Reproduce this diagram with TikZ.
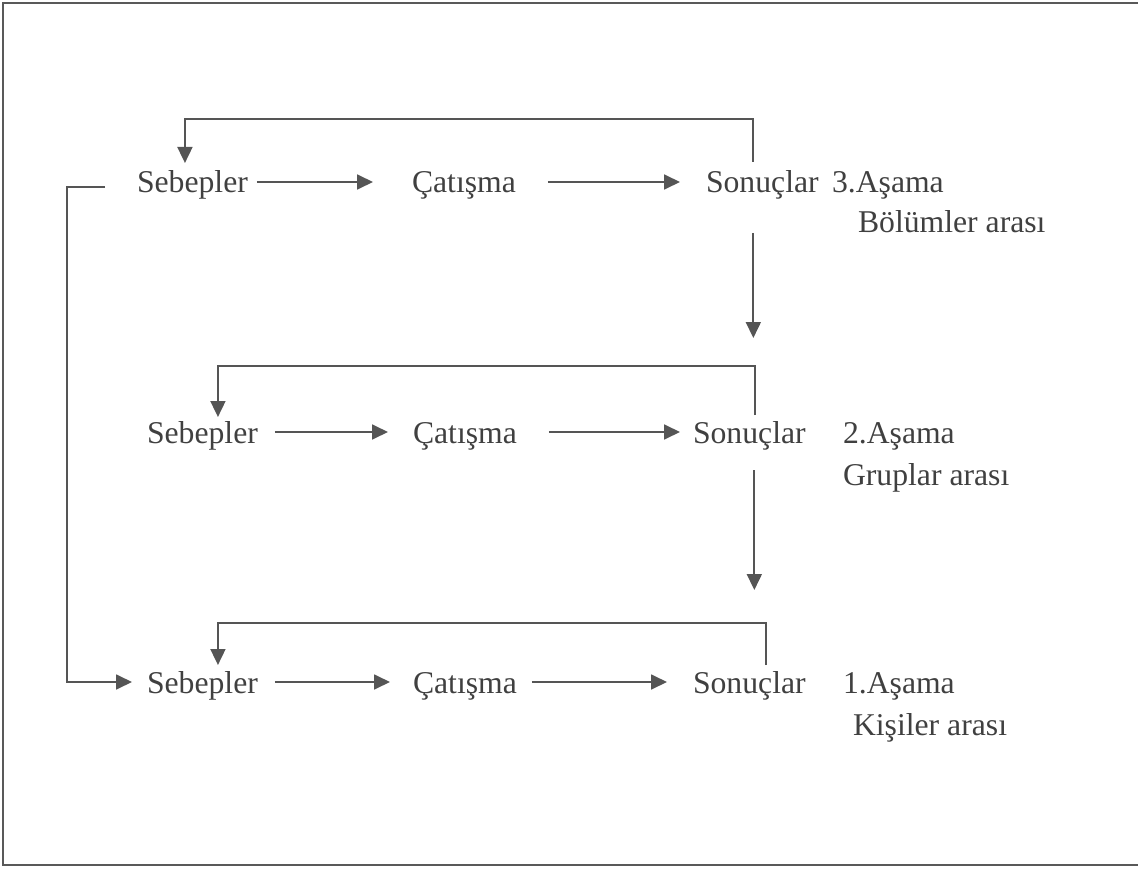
\documentclass[tikz,border=0pt]{standalone}
\usepackage{fontspec}
\setmainfont{Liberation Serif}
\usetikzlibrary{arrows.meta}
\definecolor{ink}{HTML}{404040}
\definecolor{wire}{HTML}{555555}
\tikzset{
  lbl/.style={inner sep=0pt, outer sep=0pt, text height=22pt, text depth=0pt,
              anchor=base west, text=ink, font=\fontsize{31.7}{38}\selectfont},
  arr/.style={draw=wire, line width=1.8pt,
              -{Triangle[length=16pt,width=15pt]}},
  frame/.style={draw=black!65, line width=1.8pt}
}
\begin{document}
\begin{tikzpicture}[x=1pt,y=-1pt]
\useasboundingbox (0,0) rectangle (1138,869);
\draw[frame] (1138,3) -- (3,3) -- (3,865) -- (1138,865);

% row 3 (top): between departments
\node[lbl] (seb1) at (137,193) {Sebepler};
\node[lbl] (cat1) at (412,193) {Çatışma};
\node[lbl] (son1) at (706,193) {Sonuçlar};
\node[lbl] (st1)  at (832,193) {3.Aşama};
\node[lbl] (ds1)  at (858,233) {Bölümler arası};

% row 2 (middle): between groups
\node[lbl] (seb2) at (147,443) {Sebepler};
\node[lbl] (cat2) at (413,443) {Çatışma};
\node[lbl] (son2) at (693,443) {Sonuçlar};
\node[lbl] (st2)  at (843,443) {2.Aşama};
\node[lbl] (ds2)  at (843,485) {Gruplar arası};

% row 1 (bottom): between persons
\node[lbl] (seb3) at (147,693) {Sebepler};
\node[lbl] (cat3) at (413,693) {Çatışma};
\node[lbl] (son3) at (693,693) {Sonuçlar};
\node[lbl] (st3)  at (843,693) {1.Aşama};
\node[lbl] (ds3)  at (853,735) {Kişiler arası};

% causes -> conflict -> results
\draw[arr, shorten <=9pt,  shorten >=39pt] (seb1.east) -- (cat1.west);
\draw[arr, shorten <=32pt, shorten >=26pt] (cat1.east) -- (son1.west);
\draw[arr, shorten <=17pt, shorten >=25pt] (seb2.east) -- (cat2.west);
\draw[arr, shorten <=32pt, shorten >=13pt] (cat2.east) -- (son2.west);
\draw[arr, shorten <=17pt, shorten >=23pt] (seb3.east) -- (cat3.west);
\draw[arr, shorten <=15pt, shorten >=26pt] (cat3.east) -- (son3.west);

% feedback loops from results back to causes
\draw[arr] ([xshift=-9pt,yshift=9pt]son1.north) -- ++(0,-43)
           -| ([xshift=-7.5pt,yshift=8pt]seb1.north);
\draw[arr] ([xshift=5.6pt,yshift=6pt]son2.north) -- ++(0,-49)
           -| ([xshift=15.5pt,yshift=4pt]seb2.north);
\draw[arr] ([xshift=16.6pt,yshift=6pt]son3.north) -- ++(0,-42)
           -| ([xshift=15.5pt,yshift=6pt]seb3.north);

% results feed the next stage
\draw[arr] ([xshift=-9pt,yshift=-40pt]son1.south) -- ++(0,105);
\draw[arr] ([xshift=5pt,yshift=-27pt]son2.south) -- ++(0,120);

% outer bracket from the top causes to the bottom causes
\draw[arr] ([xshift=-32pt,yshift=-5pt]seb1.west) -- ++(-38,0)
           |- ([xshift=-15pt]seb3.west);
\end{tikzpicture}
\end{document}
